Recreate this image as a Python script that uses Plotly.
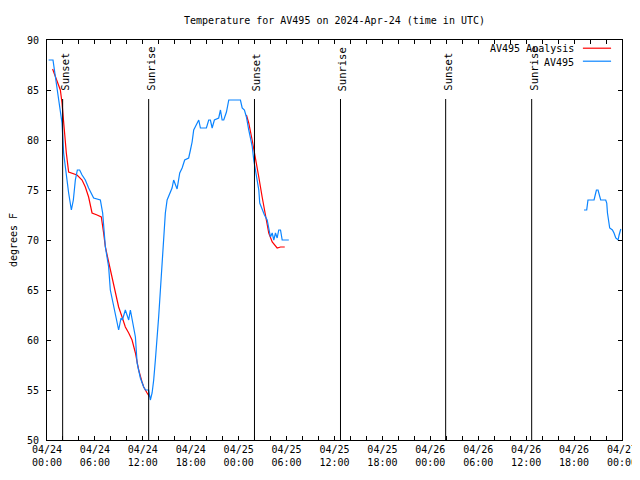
import plotly.graph_objects as go
import pandas as pd

BASE = pd.Timestamp("2024-04-24 00:00")

# Observations (hours since 2024-04-24 00:00 UTC, degrees F); None = gap
obs_hours = [0.2, 0.75, 1.88, 2.08, 2.71, 2.92, 3.05, 3.3, 3.55, 3.8, 4.09, 4.39, 4.8, 5.21,
             5.84, 6.68, 6.97, 7.31, 7.72, 7.93, 8.35, 8.77, 8.97, 9.27, 9.44, 9.81, 10.03,
             10.23, 10.44, 10.65, 10.85, 11.07, 11.28, 11.48, 11.69, 12.11, 12.32, 12.73,
             12.94, 13.16, 13.36, 13.57, 13.78, 13.98, 14.2, 14.41, 14.61, 14.82, 15.04,
             15.45, 15.66, 15.86, 16.07, 16.29, 16.62, 16.92, 17.24, 17.74, 17.96, 18.17,
             18.37, 18.8, 19.0, 19.21, 19.96, 20.25, 20.46, 20.68, 20.96, 21.5, 21.72,
             21.93, 22.13, 22.47, 22.76, 24.22, 24.44, 24.72, 24.97, 25.26, 25.48, 25.69,
             25.89, 26.1, 26.32, 26.52, 26.64, 26.98, 27.23, 27.57, 27.79, 27.98, 28.2,
             28.4, 28.61, 28.82, 29.02, 29.24, 29.45, 30.28,
             48.0,
             67.24, 67.58, 67.74, 68.5, 68.71, 68.8, 69.0, 69.12, 69.33, 69.96, 70.09,
             70.18, 70.3, 70.46, 70.8, 71.0, 71.22, 71.51, 71.64, 71.85]
obs_temp = [88, 88, 81.7, 78.7, 74.7, 73.3, 73, 74, 76, 77, 77, 76.5, 76, 75.2,
            74.2, 74, 72.7, 69.3, 67.3, 65, 63.3, 61.7, 61, 62.2, 62, 63, 62.5,
            62, 63, 62.2, 61.3, 60.3, 57.7, 57, 56.2, 55.3, 55, 55,
            54, 54.7, 56, 58, 60, 62.3, 65, 67.7, 70.7, 72.7, 74,
            74.8, 75.2, 76, 75.5, 75.1, 76.7, 77.2, 78, 78.2, 79, 79.8,
            81, 81.7, 82, 81.2, 81.2, 82, 82, 81.2, 82, 82.2, 83,
            82, 82, 82.8, 84, 84, 83.2, 83, 82.3, 81, 80.2, 79.4,
            78, 77, 76, 75, 73.7, 73, 72.5, 72, 71, 70.3, 70.7,
            70, 70.7, 70.2, 71, 71, 70, 70,
            None,
            73, 73, 74, 74, 74.7, 75, 75, 74.5, 74, 74, 73.7,
            72.7, 71.8, 71.2, 71, 70.7, 70.2, 70, 70.5, 71.1]

# Analysis series
ana_hours = [0.7, 1.04, 1.67, 1.88, 2.08, 2.42, 2.71, 3.13, 3.76, 4.39, 4.8, 5.21, 5.64,
             6.27, 6.8, 7.09, 7.31, 7.72, 8.15, 8.56, 8.97, 9.4, 9.81, 10.23, 10.65,
             11.07, 11.28, 11.48, 11.9, 12.11, 12.53, 12.86,
             18.0,
             24.97, 25.26, 25.69, 26.1, 26.52, 26.94, 27.36, 27.77, 28.2, 28.82, 29.24, 29.77]
ana_temp = [87.1, 86.3, 85, 83.7, 81.7, 78.7, 76.8, 76.7, 76.5, 76, 75.3, 74.3, 72.7,
            72.5, 72.3, 70.7, 69.3, 67.8, 66.3, 64.7, 63.3, 62.3, 61.3, 60.7, 60,
            58.7, 57.7, 57, 55.8, 55.3, 54.7, 54.3,
            None,
            82.5, 81.7, 80, 78.3, 76.3, 74.3, 72.3, 70.7, 69.8, 69.2, 69.3, 69.3]

# Sun events
sun_hours = [1.96, 12.73, 25.98, 36.75, 49.92, 60.69]
sun_labels = ["Sunset", "Sunrise", "Sunset", "Sunrise", "Sunset", "Sunrise"]

y_ticks = [50, 55, 60, 65, 70, 75, 80, 85, 90]


def to_time(hours):
    return [(BASE + pd.Timedelta(hours=h)).strftime("%Y-%m-%d %H:%M:%S") for h in hours]


FONT = "DejaVu Sans Mono"
RED = "#ff0000"
BLUE = "#0a84ff"
W, H = 632, 464  # page body adds an 8px margin

fig = go.Figure()
fig.add_trace(go.Scatter(x=to_time(ana_hours), y=ana_temp, mode="lines",
                         name="AV495 Analysis", line=dict(color=RED, width=1.2),
                         connectgaps=False))
fig.add_trace(go.Scatter(x=to_time(obs_hours), y=obs_temp, mode="lines",
                         name="AV495", line=dict(color=BLUE, width=1.2),
                         connectgaps=False))

shapes = []
annotations = []
for h, lab in zip(sun_hours, sun_labels):
    t = to_time([h])[0]
    shapes.append(dict(type="line", xref="x", yref="y", x0=t, x1=t, y0=50, y1=84.1,
                       line=dict(color="black", width=1)))
    annotations.append(dict(x=t, y=0.8675, xref="x", yref="paper", text=lab,
                            textangle=-90, showarrow=False, xanchor="center",
                            yanchor="bottom", xshift=2,
                            font=dict(family=FONT, size=10.5, color="black")))

# custom gnuplot-style legend (text left of sample)
leg = [("AV495 Analysis", RED, 0.9775), ("AV495", BLUE, 0.945)]
for text, col, yy in leg:
    annotations.append(dict(x=0.92, y=yy, xref="paper", yref="paper", text=text,
                            showarrow=False, xanchor="right", yanchor="middle",
                            font=dict(family=FONT, size=10, color="black")))
    shapes.append(dict(type="line", xref="paper", yref="paper", x0=0.932, x1=0.981,
                       y0=yy + 0.002, y1=yy + 0.002, line=dict(color=col, width=1.2)))

fig.update_layout(
    width=W, height=H,
    margin=dict(l=39, r=18, t=32, b=32, autoexpand=False),
    paper_bgcolor="white", plot_bgcolor="white",
    showlegend=False,
    title=dict(text="Temperature for AV495 on 2024-Apr-24 (time in UTC)",
               x=0.5, xref="paper", y=1 - 12 / H, yref="container",
               xanchor="center", yanchor="middle", automargin=False,
               font=dict(family=FONT, size=10, color="black")),
    font=dict(family=FONT, size=10, color="black"),
    shapes=shapes, annotations=annotations,
)
fig.update_xaxes(
    type="date", range=["2024-04-24 00:00", "2024-04-27 00:00"], automargin=False,
    tick0="2024-04-24 00:00", dtick=6 * 3600 * 1000, tickformat="%m/%d<br>%H:%M",
    ticks="inside", ticklen=4, tickcolor="black", showline=True, linecolor="black",
    linewidth=1, mirror="ticks", showgrid=False, zeroline=False,
    ticklabeloverflow="allow",
    minor=dict(dtick=2 * 3600 * 1000, ticks="inside", ticklen=4, tickcolor="black",
               showgrid=False),
    tickfont=dict(family=FONT, size=10, color="black"),
)
fig.update_yaxes(
    range=[50, 90], tickvals=y_ticks, ticks="inside", ticklen=4, tickcolor="black",
    showline=True, linecolor="black", linewidth=1, mirror="ticks", showgrid=False,
    zeroline=False, ticklabelstandoff=5, automargin=False, ticklabeloverflow="allow",
    title=dict(text="degrees F", font=dict(family=FONT, size=10, color="black"),
               standoff=17),
    tickfont=dict(family=FONT, size=10, color="black"),
)

fig.write_html("out.html")
